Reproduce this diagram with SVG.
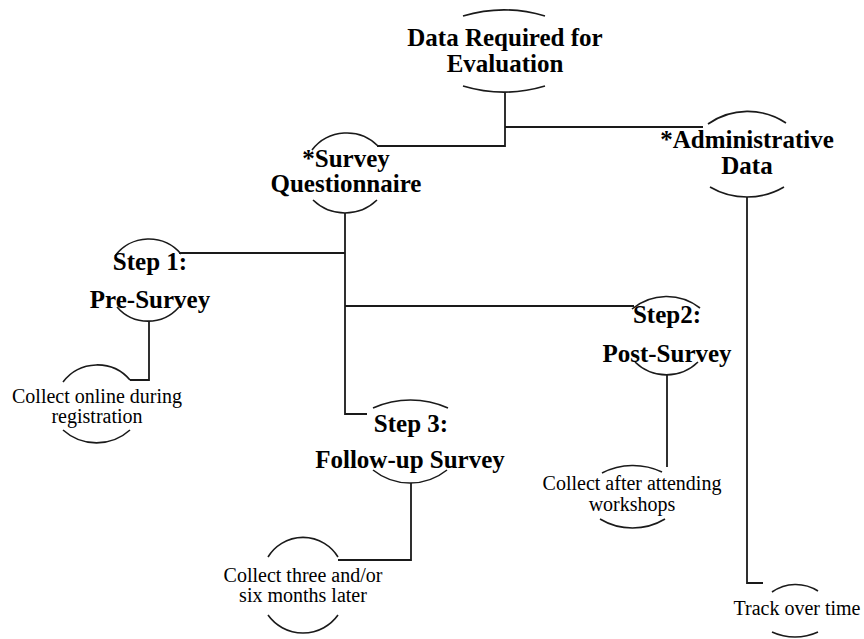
<svg xmlns="http://www.w3.org/2000/svg" width="864" height="639" viewBox="0 0 864 639">
  <style>
    .arc { fill: none; stroke: #1a1a1a; stroke-width: 1.6; }
    .link { fill: none; stroke: #1a1a1a; stroke-width: 1.8; }
    .head { font-family: 'Liberation Serif', 'DejaVu Serif', serif; font-weight: bold; font-size: 25px; fill: #000; text-anchor: middle; }
    .note { font-family: 'Liberation Serif', 'DejaVu Serif', serif; font-size: 20px; fill: #000; text-anchor: middle; }
  </style>
  <rect width="864" height="639" fill="#fff"/>

  <g id="connectors">
    <path class="link" d="M505 92 V146 H377"/>
    <path class="link" d="M505 127 H703"/>
    <path class="link" d="M345 213 V414 H367"/>
    <path class="link" d="M179 253 H345"/>
    <path class="link" d="M345 306 H634"/>
    <path class="link" d="M149 321 V380 H130"/>
    <path class="link" d="M667 375 V467"/>
    <path class="link" d="M411 483 V560 H338"/>
    <path class="link" d="M747 197 V583 H763"/>
  </g>

  <g id="data-required">
    <path class="arc" d="M463 16 A143 143 0 0 1 545 16"/>
    <path class="arc" d="M463 86 A143 143 0 0 0 545 86"/>
    <text class="head" x="505" y="46">Data Required for</text>
    <text class="head" x="505" y="72">Evaluation</text>
  </g>

  <g id="survey-questionnaire">
    <path class="arc" d="M312 150 A44 44 0 0 1 378 146"/>
    <path class="arc" d="M313 200 A46 46 0 0 0 377 200"/>
    <text class="head" x="346" y="167">*Survey</text>
    <text class="head" x="346" y="192">Questionnaire</text>
  </g>

  <g id="administrative-data">
    <path class="arc" d="M708 124 A69 69 0 0 1 786 123"/>
    <path class="arc" d="M710 187 A73 73 0 0 0 784 187"/>
    <text class="head" x="747" y="148">*Administrative</text>
    <text class="head" x="747" y="174">Data</text>
  </g>

  <g id="step1-pre-survey">
    <path class="arc" d="M115 256 A42 42 0 0 1 181 254"/>
    <path class="arc" d="M117 307 A41 41 0 0 0 179 307"/>
    <text class="head" x="150" y="270">Step 1:</text>
    <text class="head" x="150" y="308">Pre-Survey</text>
  </g>

  <g id="collect-online">
    <path class="arc" d="M63 382 A43 43 0 0 1 130 380"/>
    <path class="arc" d="M63 430 A50 50 0 0 0 130 430"/>
    <text class="note" x="97" y="403">Collect online during</text>
    <text class="note" x="97" y="423">registration</text>
  </g>

  <g id="step2-post-survey">
    <path class="arc" d="M632 309 A54 54 0 0 1 700 308"/>
    <path class="arc" d="M635 362 A45 45 0 0 0 698 362"/>
    <text class="head" x="667" y="323">Step2:</text>
    <text class="head" x="667" y="362">Post-Survey</text>
  </g>

  <g id="collect-after">
    <path class="arc" d="M602 473 A68 68 0 0 1 662 472"/>
    <path class="arc" d="M600 519 A63 63 0 0 0 665 519"/>
    <text class="note" x="632" y="490">Collect after attending</text>
    <text class="note" x="632" y="511">workshops</text>
  </g>

  <g id="step3-follow-up">
    <path class="arc" d="M373 408 A92 92 0 0 1 448 408"/>
    <path class="arc" d="M373 470 A59 59 0 0 0 447 470"/>
    <text class="head" x="411" y="432">Step 3:</text>
    <text class="head" x="410" y="468">Follow-up Survey</text>
  </g>

  <g id="collect-three">
    <path class="arc" d="M268 557 A41 41 0 0 1 338 557"/>
    <path class="arc" d="M268 615 A43 43 0 0 0 338 615"/>
    <text class="note" x="303" y="582">Collect three and/or</text>
    <text class="note" x="303" y="602">six months later</text>
  </g>

  <g id="track-over-time">
    <path class="arc" d="M772 592 A41 41 0 0 1 818 591"/>
    <path class="arc" d="M772 632 A55 55 0 0 0 818 632"/>
    <text class="note" x="797" y="615">Track over time</text>
  </g>
</svg>
